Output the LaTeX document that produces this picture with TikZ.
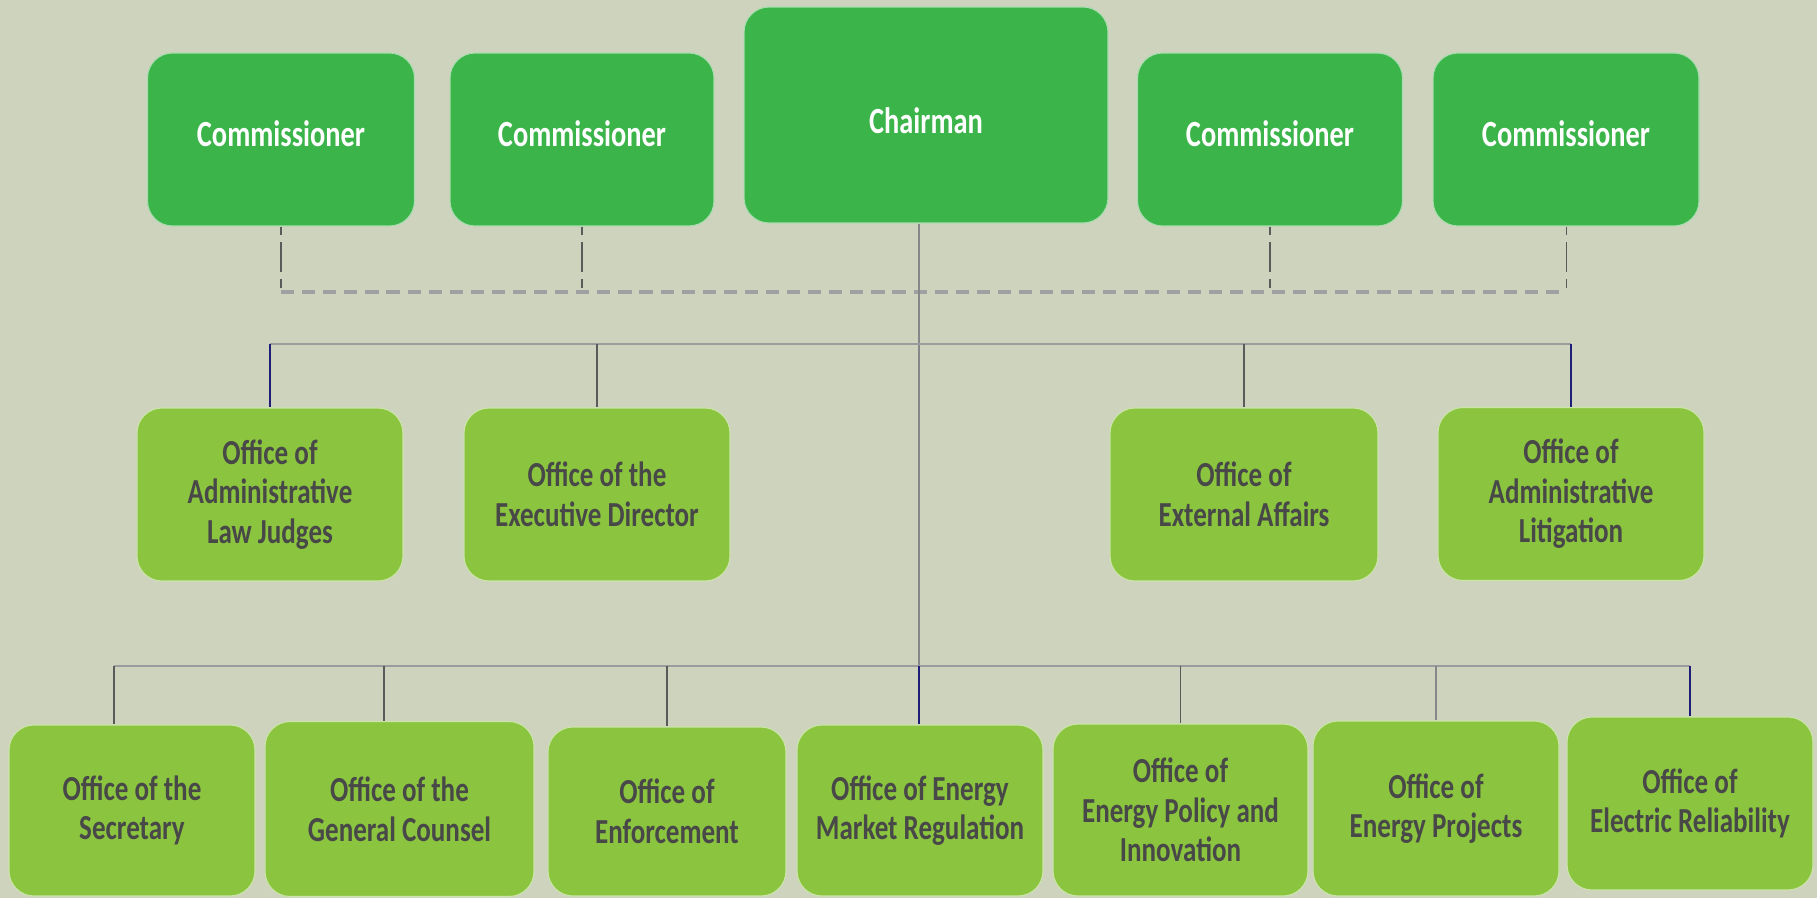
\documentclass[tikz,border=0pt]{standalone}
\usepackage{fontspec}
\newfontfamily\orgfont{Carlito}[FakeStretch=0.77]

\definecolor{bgcol}{RGB}{206,211,189}
\definecolor{topgreen}{RGB}{59,180,74}
\definecolor{officegreen}{RGB}{139,197,63}
\definecolor{officetext}{RGB}{72,72,72}
\definecolor{busgrey}{RGB}{155,155,158}
\definecolor{trunkgrey}{RGB}{135,135,138}
\definecolor{dropgrey}{RGB}{90,90,90}
\definecolor{dropnavy}{RGB}{30,30,120}
\definecolor{dashgrey}{RGB}{160,160,162}

\tikzset{
  board/.style={rectangle, rounded corners=0.5cm, fill=topgreen, draw=white!55!topgreen,
    line width=0.6pt, text=white, align=center, inner sep=0pt,
    font=\orgfont\bfseries\fontsize{21}{24}\selectfont},
  office/.style={rectangle, rounded corners=0.5cm, fill=officegreen, draw=white!55!officegreen,
    line width=0.6pt, text=officetext, align=center, inner sep=0pt,
    font=\orgfont\bfseries\fontsize{20}{22.5}\selectfont},
  bus/.style={draw=busgrey, line width=1.7pt},
  trunk/.style={draw=trunkgrey, line width=0.8pt},
  drop/.style={draw=dropgrey, line width=0.7pt},
  navydrop/.style={draw=dropnavy, line width=0.7pt},
  link/.style={draw=dashgrey, line width=2.2pt, dash pattern=on 7.5pt off 4.5pt},
  tick/.style={draw=dropgrey, line width=0.6pt, dash pattern=on 5pt off 4pt on 17pt off 4pt},
}
% board titles sit a little off the box centre
\newcommand{\boardtitle}[2]{\raisebox{#1}[0pt][0pt]{#2}}

\begin{document}
\begin{tikzpicture}[x=0.02cm, y=-0.02cm]
\fill[bgcol] (0,0) rectangle (1817,898);
\useasboundingbox (0,0) rectangle (1817,898);

% board
\node[board, minimum width=5.34cm, minimum height=3.46cm] (comA) at (281,139.5) {\boardtitle{-0.14cm}{Commissioner}};
\node[board, minimum width=5.28cm, minimum height=3.46cm] (comB) at (582,139.5) {\boardtitle{-0.14cm}{Commissioner}};
\node[board, minimum width=7.28cm, minimum height=4.32cm] (chair) at (926,115) {\boardtitle{-0.38cm}{Chairman}};
\node[board, minimum width=5.30cm, minimum height=3.46cm] (comC) at (1270,139.5) {\boardtitle{-0.14cm}{Commissioner}};
\node[board, minimum width=5.32cm, minimum height=3.46cm] (comD) at (1566,139.5) {\boardtitle{-0.14cm}{Commissioner}};

% staff offices
\node[office, minimum width=5.32cm, minimum height=3.46cm] (alj) at (270,494.5) {Office of\\Administrative\\Law Judges};
\node[office, minimum width=5.32cm, minimum height=3.46cm] (exd) at (597,494.5) {Office of the\\Executive Director};
\node[office, minimum width=5.36cm, minimum height=3.46cm] (ext) at (1244,494.5) {Office of\\External Affairs};
\node[office, minimum width=5.32cm, minimum height=3.46cm] (adl) at (1571,494) {Office of\\Administrative\\Litigation};

% program offices
\node[office, minimum width=4.92cm, minimum height=3.42cm] (sec) at (132,810.5) {Office of the\\Secretary};
\node[office, minimum width=5.38cm, minimum height=3.50cm] (gc) at (399.5,809) {Office of the\\General Counsel};
\node[office, minimum width=4.76cm, minimum height=3.38cm] (enf) at (667,811.5) {Office of\\Enforcement};
\node[office, minimum width=4.92cm, minimum height=3.42cm] (emr) at (920,810.5) {Office of Energy\\Market Regulation};
\node[office, minimum width=5.10cm, minimum height=3.44cm] (epi) at (1180.5,810) {Office of\\Energy Policy and\\Innovation};
\node[office, minimum width=4.92cm, minimum height=3.50cm] (enp) at (1436,808.5) {Office of\\Energy Projects};
\node[office, minimum width=4.92cm, minimum height=3.46cm] (elr) at (1690,803.5) {Office of\\Electric Reliability};

\coordinate (link) at (0,292);
\coordinate (bus2) at (919,344);
\coordinate (bus3) at (919,666);
\coordinate (secdrop) at ([xshift=-0.36cm]sec.north);
\coordinate (gcdrop) at ([xshift=-0.31cm]gc.north);

% commissioners tie-in
\draw[link] (comA.south |- link) -- (comD.south |- link);
\path[tick] (comA.south) edge (comA.south |- link);
\path[tick] (comB.south) edge (comB.south |- link);
\path[tick] (comC.south) edge (comC.south |- link);
\path[tick] (comD.south) edge (comD.south |- link);

% chairman down to the offices
\draw[trunk] (chair.south -| bus3) -- (bus3);
\draw[bus] (alj.north |- bus2) -- (adl.north |- bus2);
\draw[bus] (secdrop |- bus3) -- (elr.north |- bus3);

\path[navydrop] (alj.north |- bus2) edge (alj.north);
\path[drop] (exd.north |- bus2) edge (exd.north);
\path[drop] (ext.north |- bus2) edge (ext.north);
\path[navydrop] (adl.north |- bus2) edge (adl.north);

\path[drop] (secdrop |- bus3) edge (secdrop);
\path[drop] (gcdrop |- bus3) edge (gcdrop);
\path[drop] (enf.north |- bus3) edge (enf.north);
\path[navydrop] (bus3) edge (emr.north -| bus3);
\path[drop] (epi.north |- bus3) edge (epi.north);
\path[trunk] (enp.north |- bus3) edge (enp.north);
\path[navydrop] (elr.north |- bus3) edge (elr.north);

\end{tikzpicture}
\end{document}
